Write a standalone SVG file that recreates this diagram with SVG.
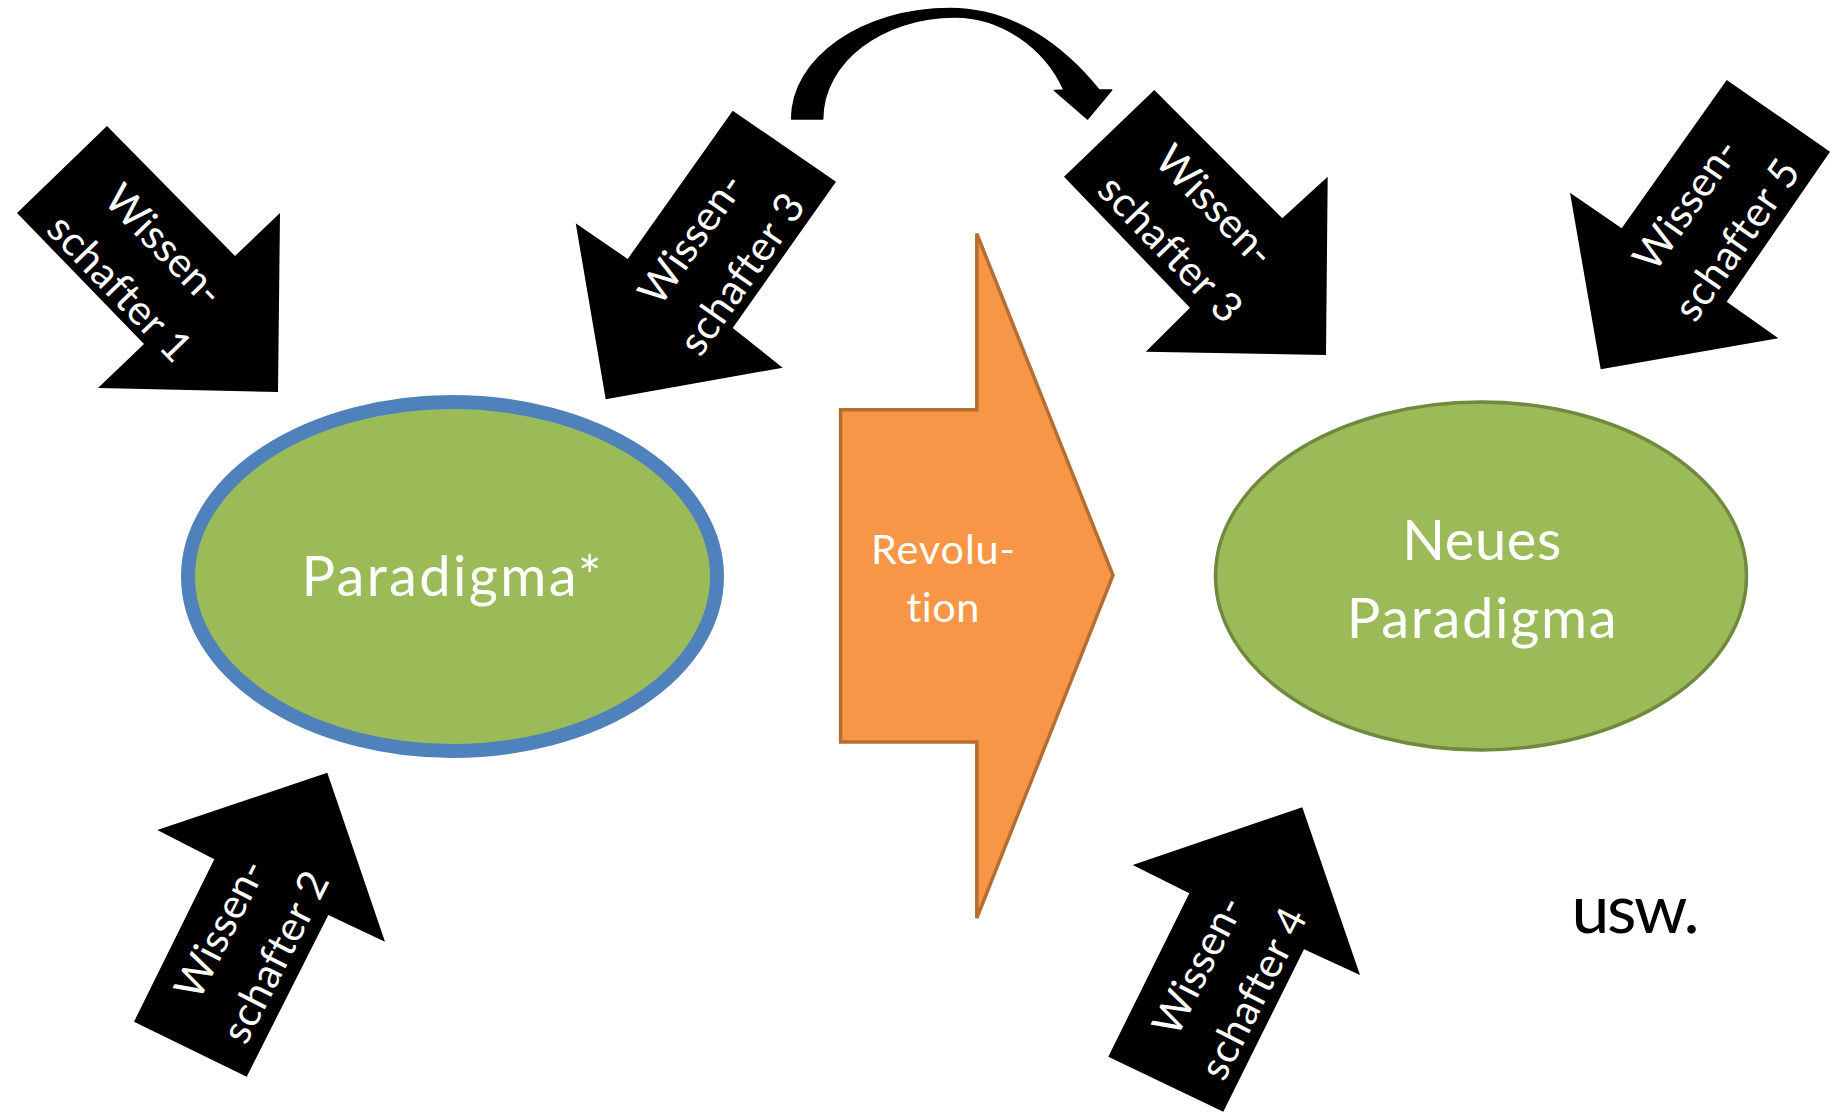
<svg xmlns="http://www.w3.org/2000/svg" width="1841" height="1113" viewBox="0 0 1841 1113">
  <style>
    text { font-variant-ligatures: none; font-feature-settings: "liga" 0, "clig" 0; }
    .blk { fill: #000000; }
    .lbl { font-family: Lato, "Liberation Sans", sans-serif; fill: #FFFFFF; text-anchor: middle; }
    .small { font-size: 41.5px; }
    .big { font-size: 56px; }
    .green { fill: #9BBB59; }
  </style>
  <rect width="1841" height="1113" fill="#FFFFFF"/>

  <!-- connectors: curved jump arrow and revolution block arrow -->
  <g id="connectors">
    <path id="jump" class="blk" stroke="#000" stroke-width="1.5" stroke-linejoin="round"
      d="M791.7,119 C791.7,58 862.6,8.5 950,8.5 C1015,8.5 1065,48 1099,90 L1111.7,90 L1087.5,119 L1054.5,90.5 L1064,90 C1044,46 1000,17 955,17 C881.9,17 822.7,62.4 822.7,119 Z"/>
    <g id="revolution">
      <polygon points="840.6,409.8 976.8,409.8 976.8,233.6 1113,575.3 976.8,918 976.8,742 840.6,742" fill="#F79646" stroke="#B66D31" stroke-width="3.5"/>
      <text class="lbl small" x="943" y="563.5" textLength="144">Revolu-</text>
      <text class="lbl small" x="943" y="622" textLength="73">tion</text>
    </g>
  </g>

  <!-- old paradigm -->
  <g id="paradigma">
    <ellipse class="green" cx="452.5" cy="576.5" rx="264.5" ry="174.5" stroke="#4F81BD" stroke-width="14"/>
    <text class="lbl big" x="451.5" y="596.4" textLength="300">Paradigma*</text>
  </g>

  <!-- new paradigm -->
  <g id="neues-paradigma">
    <ellipse class="green" cx="1481" cy="576" rx="265.5" ry="174" stroke="#71893F" stroke-width="3.5"/>
    <text class="lbl big" x="1481.7" y="560" textLength="159">Neues</text>
    <text class="lbl big" x="1481.7" y="637.5" textLength="270">Paradigma</text>
  </g>

  <!-- scientist 1 -->
  <g id="w1">
    <polygon class="blk" points="17,213 107,126 235,256 280,213 278,392 98,388 144,344"/>
    <g transform="translate(142.5,266) rotate(46)">
      <text class="lbl small" x="0" y="-16" textLength="150">Wissen-</text>
      <text class="lbl small" x="0" y="46" textLength="186">schafter 1</text>
    </g>
  </g>

  <!-- scientist 2 -->
  <g id="w2">
    <polygon class="blk" points="327.3,772.7 385,941.7 328.3,915 246.7,1076.7 134,1021.7 214.3,859.3 157.3,830"/>
    <g transform="translate(247,942.5) rotate(-63)">
      <text class="lbl small" x="0" y="-16" textLength="150">Wissen-</text>
      <text class="lbl small" x="0" y="46" textLength="186">schafter 2</text>
    </g>
  </g>

  <!-- scientist 3, before the jump -->
  <g id="w3a">
    <polygon class="blk" points="732.7,110.7 836,181.7 732.7,328 782.7,367.7 605.7,399.3 575.7,223.3 627.7,259"/>
    <g transform="translate(715.8,255.8) rotate(-55)">
      <text class="lbl small" x="0" y="-16" textLength="150">Wissen-</text>
      <text class="lbl small" x="0" y="46" textLength="186">schafter 3</text>
    </g>
  </g>

  <!-- scientist 3, after the jump -->
  <g id="w3b">
    <polygon class="blk" points="1154.3,90 1064,176.7 1190,307.7 1145.7,351.7 1326,355 1327.7,176.7 1282.3,218.3"/>
    <g transform="translate(1193.3,226.7) rotate(46)">
      <text class="lbl small" x="0" y="-16" textLength="150">Wissen-</text>
      <text class="lbl small" x="0" y="46" textLength="186">schafter 3</text>
    </g>
  </g>

  <!-- scientist 4 -->
  <g id="w4">
    <polygon class="blk" points="1302.3,807.3 1360,975 1304,949.3 1223.3,1111.7 1108.3,1056.7 1189.3,893.3 1132.7,865"/>
    <g transform="translate(1225,979) rotate(-63)">
      <text class="lbl small" x="0" y="-16" textLength="150">Wissen-</text>
      <text class="lbl small" x="0" y="46" textLength="186">schafter 4</text>
    </g>
  </g>

  <!-- scientist 5 -->
  <g id="w5">
    <polygon class="blk" points="1726.7,80 1830,151.7 1726.7,301.7 1778.3,338.3 1600.7,369.3 1570,192.7 1621.7,228.3"/>
    <g transform="translate(1710.7,221.5) rotate(-55)">
      <text class="lbl small" x="0" y="-16" textLength="150">Wissen-</text>
      <text class="lbl small" x="0" y="46" textLength="186">schafter 5</text>
    </g>
  </g>

  <g id="usw">
    <text x="1635.5" y="933" font-family="Lato, 'Liberation Sans', sans-serif" font-size="68" text-anchor="middle" fill="#000000" textLength="128">usw.</text>
  </g>
</svg>
